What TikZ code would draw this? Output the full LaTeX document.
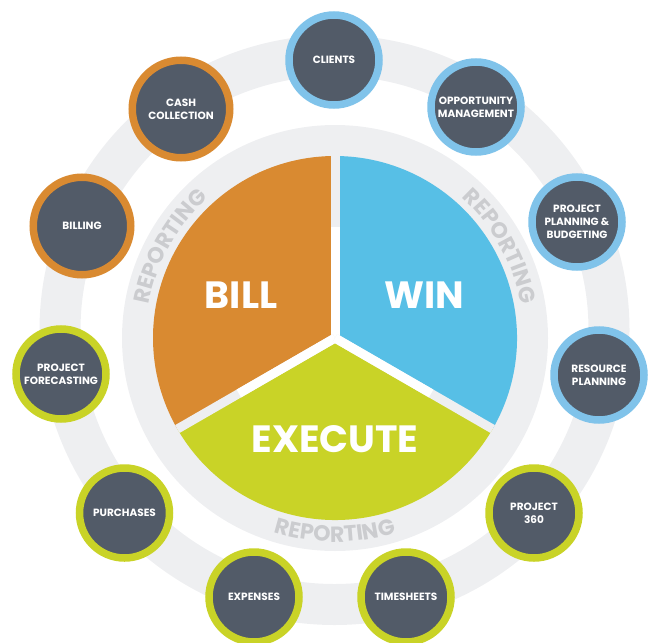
\documentclass[tikz,border=0pt]{standalone}
\usepackage{fontspec}
\setsansfont{Poppins}
\usetikzlibrary{decorations.text}
\definecolor{slate}{HTML}{525B68}
\definecolor{billc}{HTML}{D98A31}
\definecolor{winc}{HTML}{57BFE6}
\definecolor{winring}{HTML}{80C3EA}
\definecolor{execc}{HTML}{C9D327}
\definecolor{band}{HTML}{EEEFF1}
\definecolor{reportc}{HTML}{CBCCCF}
\newcommand{\reportfont}{\sffamily\bfseries\fontsize{22}{22}\selectfont\color{reportc}}
\begin{document}
\begin{tikzpicture}[x=1pt,y=1pt,
  stage/.style={circle,line width=7.5pt,fill=slate,minimum size=90pt,inner sep=0pt,
    align=center,text=white,font=\sffamily\bfseries\fontsize{10.5}{13}\selectfont},
  bigstage/.style={stage,minimum size=97.5pt},
  phase/.style={text=white,font=\sffamily\bfseries\fontsize{38}{38}\selectfont},
  report/.style={decorate,decoration={text along path,text align=center,
    text={|\reportfont|REPORTING}}}]
\useasboundingbox (0,0) rectangle (655,-642);
\coordinate (c) at (335,-338);
\draw[band,line width=41pt] (334.5,-330) circle (274.5); % outer ring
\fill[band] (c) circle (213);
% the three phases
\fill[billc] (c) -- ++(90:182) arc (90:210:182) -- cycle;
\fill[winc] (c) -- ++(-30:182) arc (-30:90:182) -- cycle;
\fill[execc] (c) -- ++(210:182) arc (210:330:182) -- cycle;
\foreach \a in {90,210,330}
{\draw[band,line width=9pt] (c) -- ++(\a:182);
\draw[white,line width=9pt] (c) -- ++(\a:111);}
\node[phase] (bill) at (241,-295) {BILL};
\node[phase] (win) at (424,-295) {WIN};
\node[phase] (execute) at (335,-439) {EXECUTE};
% reporting along the inner band
\path[report] (c) ++(172:189) arc (172:130:189);
\path[report] (c) ++(50:189) arc (50:8:189);
\path[report] (c) ++(240:204) arc (240:300:204);
% edit here for the stages
\foreach \x/\y/\col/\name/\txt in {334/60/winring/clients/CLIENTS,
  476/107/winring/opportunity/{OPPORTUNITY\\MANAGEMENT},
  577/222/winring/planning/{PROJECT\\PLANNING \&\\BUDGETING},
  599/375/winring/resource/{RESOURCE\\PLANNING},
  534/513/execc/project/{PROJECT\\360},
  406/597/execc/timesheets/TIMESHEETS,
  254/597/execc/expenses/EXPENSES,
  124.5/513/execc/purchases/PURCHASES,
  61/374/execc/forecasting/{PROJECT\\FORECASTING}}
\node[stage,draw=\col] (\name) at (\x,-\y) {\txt};
\foreach \x/\y/\name/\txt in {82/226/billing/BILLING,
  181/109/cash/{CASH\\COLLECTION}}
\node[bigstage,draw=billc] (\name) at (\x,-\y) {\txt};
\end{tikzpicture}
\end{document}
